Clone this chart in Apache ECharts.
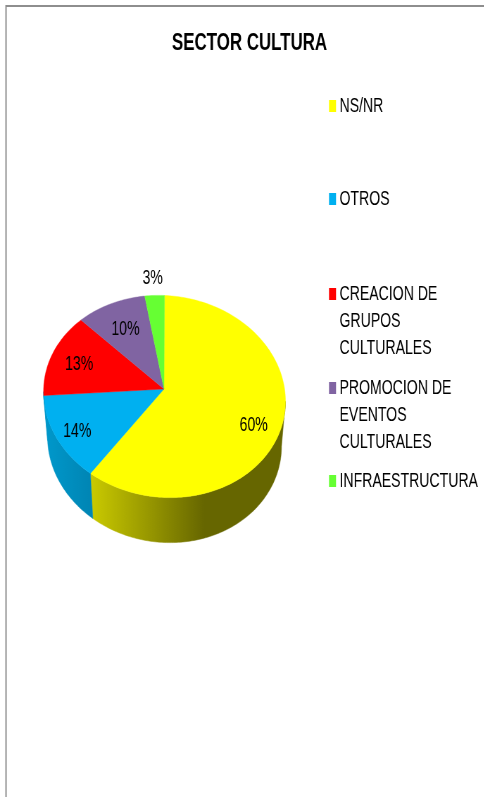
<!DOCTYPE html>
<html>
<head>
<meta charset="utf-8">
<style>
html,body{margin:0;padding:0;background:#fff;overflow:hidden;width:484px;height:797px}
#c{height:797px;transform-origin:0 0;filter:blur(0.35px)}
</style>
<script src="https://cdn.jsdelivr.net/npm/echarts@6/dist/echarts.min.js"></script>
</head>
<body>
<div id="c"></div>
<script>
const titleText = 'SECTOR CULTURA';
const categories = ['NS/NR', 'OTROS', 'CREACION DE GRUPOS CULTURALES', 'PROMOCION DE EVENTOS CULTURALES', 'INFRAESTRUCTURA'];
const legendLines = [['NS/NR'], ['OTROS'], ['CREACION DE', 'GRUPOS', 'CULTURALES'], ['PROMOCION DE', 'EVENTOS', 'CULTURALES'], ['INFRAESTRUCTURA']];
const shares = [60.49, 13.9, 13.49, 9.5, 2.62];
const colors = ['#FFFF00', '#00B0F0', '#FF0000', '#8064A2', '#66FF33'];

// The reference is a picture of a wider chart squeezed horizontally, so the chart is drawn wide and squeezed the same way.
const SQUEEZE = 0.704;
const X = x => x / SQUEEZE;
const FONT = '"Liberation Sans", Arial, sans-serif';
const TEXT = '#000';
const top3d = { cx: 164.5, cy: 396.5, rx: 121, ry: 101, apexX: 164, apexY: 389 };
const bottom3d = { cx: 164.5, cy: 441.5, rx: 117, ry: 101 };
const SHEAR = 0.04;
const labelReach = [0.78, 0.81, 0.76, 0.72, 1.2];
const legendRowY = [106, 199, 294, 388, 481];
const LINE_H = 27;

const el = document.getElementById('c');
el.style.width = X(484) + 'px';
el.style.transform = 'scaleX(' + SQUEEZE + ')';

const total = shares.reduce((a, b) => a + b, 0);
const angleOf = v => v / total * Math.PI * 2;
const starts = shares.map((_, i) => shares.slice(0, i).reduce((a, b) => a + angleOf(b), 0));

function pt(e, t) {
  const x = e.cx + e.rx * Math.sin(t);
  return [X(x), e.cy - e.ry * Math.cos(t) + SHEAR * (x - e.cx)];
}
function arc(e, a, b) {
  const n = Math.max(2, Math.ceil((b - a) / 0.02));
  const out = [];
  for (let i = 0; i <= n; i++) out.push(pt(e, a + (b - a) * i / n));
  return out;
}
function wallFill(i) {
  const x0 = i === 0 ? 89 : 43, x1 = i === 0 ? 285 : 89;
  const stops = i === 0
    ? [{ offset: 0, color: '#CCCC00' }, { offset: 0.59, color: '#666600' }, { offset: 1, color: '#666600' }]
    : [{ offset: 0, color: '#0099CC' }, { offset: 1, color: '#0086B5' }];
  return new echarts.graphic.LinearGradient(X(x0), 0, X(x1), 0, stops, true);
}
function renderSlice(index, params, api) {
  const a = starts[index];
  const b = a + angleOf(api.value(0));
  const children = [];
  const wa = Math.max(a, Math.PI / 2), wb = Math.min(b, Math.PI * 1.5);
  if (wb > wa) {
    const pts = arc(top3d, wa, wb).concat(arc(bottom3d, wa, wb).reverse());
    const fill = wallFill(index);
    children.push({ type: 'polygon', shape: { points: pts }, style: { fill, stroke: fill, lineWidth: 0.5 } });
  }
  const apex = [X(top3d.apexX), top3d.apexY];
  children.push({
    type: 'polygon',
    shape: { points: [apex].concat(arc(top3d, a, b)) },
    style: { fill: colors[index], stroke: colors[index], lineWidth: 0.4 }
  });
  const edge = pt(top3d, (a + b) / 2);
  const r = labelReach[index];
  children.push({
    type: 'text',
    z2: 10,
    style: {
      text: Math.round(api.value(0)) + '%',
      x: apex[0] + (edge[0] - apex[0]) * r,
      y: apex[1] + (edge[1] - apex[1]) * r + 2,
      fill: TEXT,
      font: '20px ' + FONT,
      align: 'center',
      verticalAlign: 'middle'
    }
  });
  return { type: 'group', children };
}

const chart = echarts.init(el, null, { renderer: 'canvas' });
chart.setOption({
  animation: false,
  backgroundColor: '#fff',
  title: {
    text: titleText,
    left: X(249.5),
    top: 31,
    textAlign: 'center',
    padding: 0,
    textStyle: { fontFamily: FONT, fontWeight: 'bold', fontSize: 24, color: '#000' }
  },
  graphic: [{
    type: 'rect',
    silent: true,
    shape: { x: X(6), y: 6, width: 1000, height: 1000 },
    style: { fill: 'transparent', stroke: '#8E8E8E', lineWidth: 2 }
  }],
  legend: categories.map((name, i) => {
    const multi = legendLines[i].length > 1;
    return {
      data: [name],
      left: X(329),
      top: legendRowY[i] - (multi ? 2.5 : 0.5) * LINE_H,
      padding: 0,
      selectedMode: false,
      icon: 'rect',
      itemWidth: X(7),
      itemHeight: 12,
      formatter: () => (multi ? '\n\n' : '') + legendLines[i].join('\n'),
      textStyle: { fontFamily: FONT, fontSize: 20, lineHeight: LINE_H, color: TEXT }
    };
  }),
  series: categories.map((name, i) => ({
    type: 'custom',
    name,
    coordinateSystem: 'none',
    silent: true,
    itemStyle: { color: colors[i] },
    renderItem: (p, api) => renderSlice(i, p, api),
    data: [[shares[i]]]
  }))
});
</script>
</body>
</html>
